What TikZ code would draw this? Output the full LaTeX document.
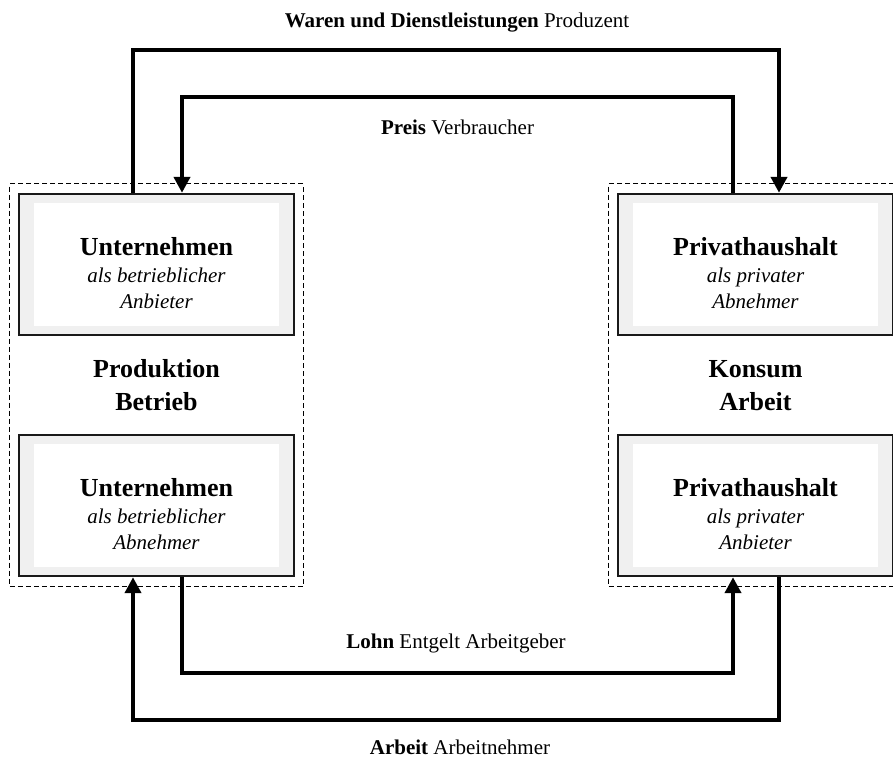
\documentclass[tikz,border=0pt]{standalone}
\usepackage{fontspec}
\setmainfont{Liberation Serif}
\usetikzlibrary{arrows.meta,fit,calc}
\definecolor{boxgray}{RGB}{240,240,240}
\definecolor{boxedge}{RGB}{25,25,25}
\tikzset{
 unitbox/.style={draw=boxedge, line width=2.4pt, fill=boxgray, minimum width=275pt, minimum height=141pt, inner sep=0pt},
 titletext/.style={anchor=base, font=\fontsize{26}{30}\selectfont\bfseries, inner sep=0pt},
 subtext/.style={anchor=base, font=\fontsize{21}{25}\selectfont\itshape, inner sep=0pt},
 flowlabel/.style={anchor=base, font=\fontsize{21}{25}\selectfont, inner sep=0pt},
 flow/.style={line width=4.6pt, line join=miter},
 tipend/.style={-{Triangle[length=16pt,width=16pt]}},
 dashbox/.style={draw, dash pattern=on 5pt off 3pt, line width=1.3pt, inner xsep=8pt, inner ysep=9pt}
}
\newcommand{\unitblock}[6]{%
 \node[unitbox] (#1) at (#2,#3) {};
 \fill[white] ($(#1.north west)+(16,10)$) rectangle ($(#1.south east)+(-16,-10)$);
 \node[titletext] (#1-t) at ($(#1.center)+(0,-9.5)$) {#4};
 \node[subtext] (#1-a) at ($(#1.center)+(0,17.5)$) {#5};
 \node[subtext] (#1-b) at ($(#1.center)+(0,43.5)$) {#6};
}
\begin{document}
\begin{tikzpicture}[x=1pt,y=-1pt]
\useasboundingbox (0,0) rectangle (893,758);
\fill[white] (0,0) rectangle (893,758);
\unitblock{tl}{156.5}{264.5}{Unternehmen}{als betrieblicher}{Anbieter}
\unitblock{bl}{156.5}{505.5}{Unternehmen}{als betrieblicher}{Abnehmer}
\unitblock{tr}{755.5}{264.5}{Privathaushalt}{als privater}{Abnehmer}
\unitblock{br}{755.5}{505.5}{Privathaushalt}{als privater}{Anbieter}
\node[dashbox, fit=(tl)(bl)] (gl) {};
\node[dashbox, fit=(tr)(br)] (gr) {};
\node[titletext] (pm1) at (156.5,377) {Produktion};
\node[titletext] (pm2) at (156.5,410) {Betrieb};
\node[titletext] (km1) at (755.5,377) {Konsum};
\node[titletext] (km2) at (755.5,410) {Arbeit};
\coordinate (ta) at (133,50); \coordinate (tb) at (779,50);
\coordinate (ia) at (182,97); \coordinate (ib) at (733,97);
\coordinate (la) at (182,673); \coordinate (lb) at (733,673);
\coordinate (oa) at (133,720); \coordinate (ob) at (779,720);
\draw[flow,tipend] (tl.north -| ta) -- (ta) -- (tb) -- (tr.north -| tb);
\draw[flow,tipend] (tr.north -| ib) -- (ib) -- (ia) -- (tl.north -| ia);
\draw[flow,tipend] (bl.south -| la) -- (la) -- (lb) -- (br.south -| lb);
\draw[flow,tipend] (br.south -| ob) -- (ob) -- (oa) -- (bl.south -| oa);
\node[flowlabel] (lw) at (457,27) {\textbf{Waren und Dienstleistungen} Produzent};
\node[flowlabel] (lp) at (457.5,134) {\textbf{Preis} Verbraucher};
\node[flowlabel] (ll) at (456,648) {\textbf{Lohn} Entgelt Arbeitgeber};
\node[flowlabel] (lar) at (460,754) {\textbf{Arbeit} Arbeitnehmer};
\end{tikzpicture}
\end{document}
